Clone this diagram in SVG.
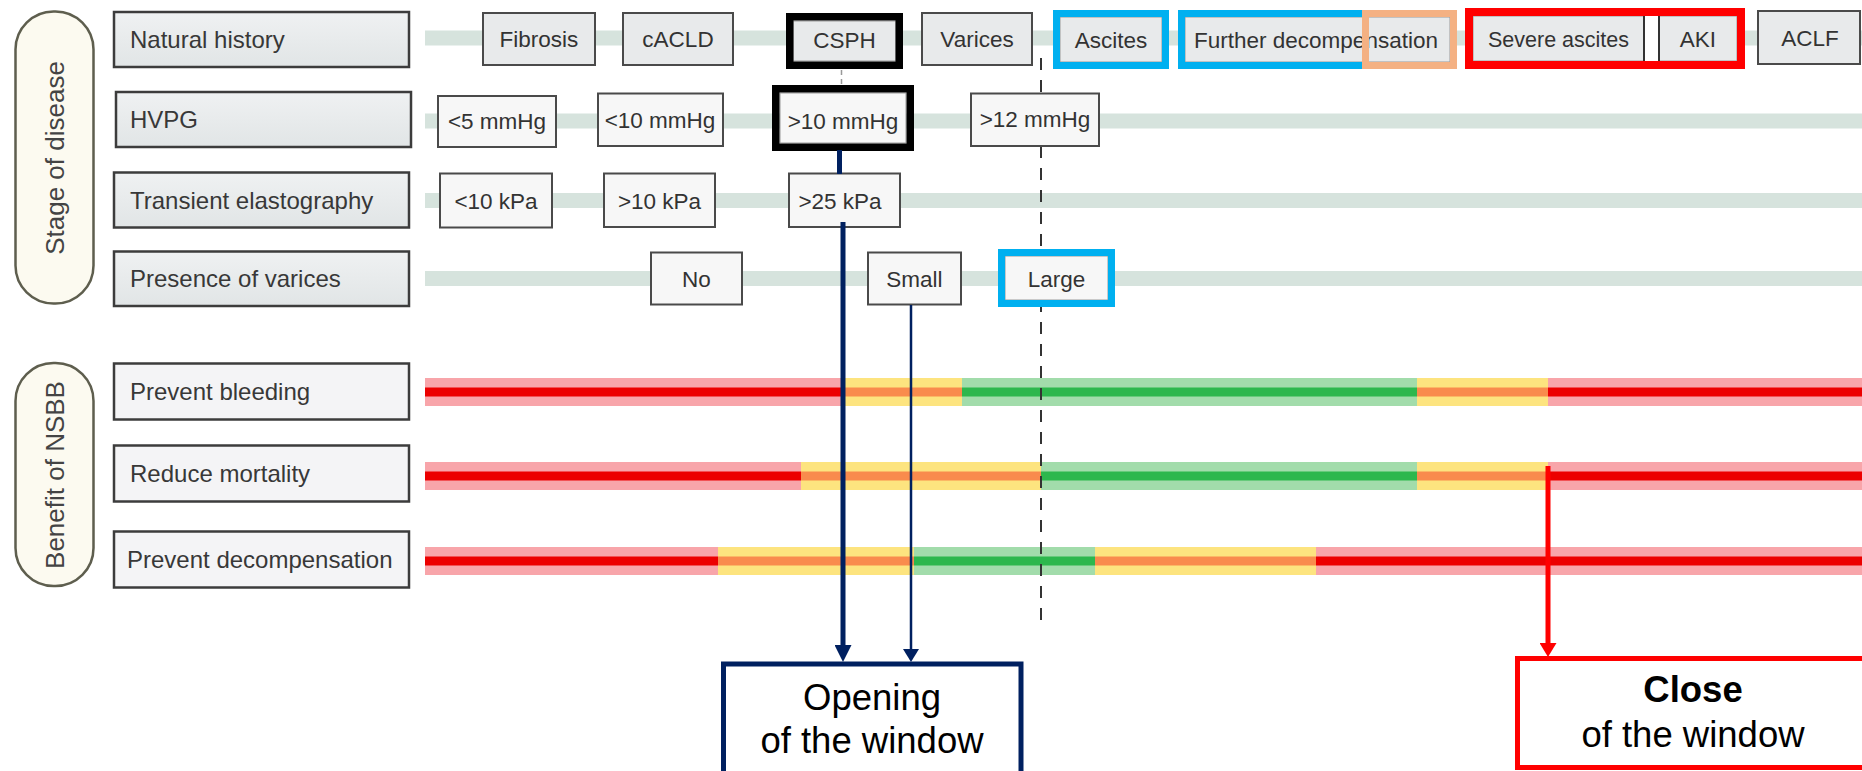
<svg xmlns="http://www.w3.org/2000/svg" width="1862" height="771" viewBox="0 0 1862 771">
<defs>
<linearGradient id="lblGrad" x1="0" y1="0" x2="0" y2="1"><stop offset="0" stop-color="#eff1f2"/><stop offset="1" stop-color="#e1e5e6"/></linearGradient>
<marker id="arrNavyThick" markerUnits="userSpaceOnUse" markerWidth="17" markerHeight="17" viewBox="0 0 17 17" refX="2" refY="8.5" orient="auto"><path d="M0,0 L17,8.5 L0,17 z" fill="#002060"/></marker>
<marker id="arrNavyThin" markerUnits="userSpaceOnUse" markerWidth="13" markerHeight="16" viewBox="0 0 13 16" refX="2" refY="8" orient="auto"><path d="M0,0 L13,8 L0,16 z" fill="#002060"/></marker>
<marker id="arrRed" markerUnits="userSpaceOnUse" markerWidth="14" markerHeight="17" viewBox="0 0 14 17" refX="2" refY="8.5" orient="auto"><path d="M0,0 L14,8.5 L0,17 z" fill="#ff0000"/></marker>
<style>
text{font-family:"Liberation Sans",Arial,Helvetica,sans-serif}
.pill{fill:#fcfaf0;stroke:#5e5e4e;stroke-width:2.5}
.lbl{fill:url(#lblGrad);stroke:#3c3c3c;stroke-width:2.5}
.lbl2{fill:#f4f4f6;stroke:#3c3c3c;stroke-width:2.5}
.node{fill:#e8eaeb;stroke:#4a4a4a;stroke-width:2}
.nodew{fill:#f7f7f7;stroke:#4a4a4a;stroke-width:2}
.inner{fill:#e8eaeb;stroke:#9a9a9a;stroke-width:1}
.innerw{fill:#f7f7f7;stroke:#9a9a9a;stroke-width:1}
.blk{fill:none;stroke:#000;stroke-width:7.5}
.cyan{fill:none;stroke:#00b0f0;stroke-width:7}
.orng{fill:none;stroke:#f4b183;stroke-width:7}
.redf{fill:none;stroke:#ff0000;stroke-width:8}
.t-pill{font-size:26px;fill:#444;text-anchor:middle}
.t-lbl{font-size:24px;fill:#383838}
.t-node{font-size:22.5px;fill:#333;text-anchor:middle}
.t-big{font-size:36.5px;fill:#000;text-anchor:middle}
.track{fill:#d6e3dd}
.ro{fill:#f8a5aa}.ri{fill:#ec0000}
.yo{fill:#fde47f}.yi{fill:#f98b4d}
.go{fill:#a2dcab}.gi{fill:#2db74d}
</style>
</defs>
<rect width="1862" height="771" fill="#ffffff"/>

<!-- tracks -->
<g id="tracks">
<rect class="track" x="425" y="30.5" width="1437" height="15"/>
<rect class="track" x="425" y="113.5" width="1437" height="15"/>
<rect class="track" x="425" y="193" width="1437" height="15"/>
<rect class="track" x="425" y="271" width="1437" height="15"/>
</g>

<!-- benefit bars -->
<g id="bars">
<g id="bar-bleeding">
<rect class="ro" x="425" y="378" width="416" height="28"/><rect class="ri" x="425" y="387.5" width="416" height="9"/>
<rect class="yo" x="841" y="378" width="121" height="28"/><rect class="yi" x="841" y="387.5" width="121" height="9"/>
<rect class="go" x="962" y="378" width="455" height="28"/><rect class="gi" x="962" y="387.5" width="455" height="9"/>
<rect class="yo" x="1417" y="378" width="131" height="28"/><rect class="yi" x="1417" y="387.5" width="131" height="9"/>
<rect class="ro" x="1548" y="378" width="314" height="28"/><rect class="ri" x="1548" y="387.5" width="314" height="9"/>
</g>
<g id="bar-mortality">
<rect class="ro" x="425" y="462" width="376" height="28"/><rect class="ri" x="425" y="471.5" width="376" height="9"/>
<rect class="yo" x="801" y="462" width="240" height="28"/><rect class="yi" x="801" y="471.5" width="240" height="9"/>
<rect class="go" x="1041" y="462" width="376" height="28"/><rect class="gi" x="1041" y="471.5" width="376" height="9"/>
<rect class="yo" x="1417" y="462" width="131" height="28"/><rect class="yi" x="1417" y="471.5" width="131" height="9"/>
<rect class="ro" x="1548" y="462" width="314" height="28"/><rect class="ri" x="1548" y="471.5" width="314" height="9"/>
</g>
<g id="bar-decompensation">
<rect class="ro" x="425" y="547" width="293" height="28"/><rect class="ri" x="425" y="556.5" width="293" height="9"/>
<rect class="yo" x="718" y="547" width="196" height="28"/><rect class="yi" x="718" y="556.5" width="196" height="9"/>
<rect class="go" x="914" y="547" width="181" height="28"/><rect class="gi" x="914" y="556.5" width="181" height="9"/>
<rect class="yo" x="1095" y="547" width="221" height="28"/><rect class="yi" x="1095" y="556.5" width="221" height="9"/>
<rect class="ro" x="1316" y="547" width="546" height="28"/><rect class="ri" x="1316" y="556.5" width="546" height="9"/>
</g>
</g>

<!-- connectors behind nodes -->
<g id="guides">
<line x1="1041" y1="58" x2="1041" y2="625" stroke="#333" stroke-width="2" stroke-dasharray="12 10"/>
<line x1="841.5" y1="70" x2="841.5" y2="85" stroke="#999" stroke-width="1.5" stroke-dasharray="5 4"/>
</g>

<!-- category pills -->
<g id="pill-stage">
<rect class="pill" x="15.5" y="11.5" width="78" height="292" rx="38" ry="38"/>
<text class="t-pill" transform="translate(63.5,158) rotate(-90)">Stage of disease</text>
</g>
<g id="pill-benefit">
<rect class="pill" x="15.5" y="363" width="78" height="223" rx="38" ry="38"/>
<text class="t-pill" transform="translate(63.5,475) rotate(-90)">Benefit of NSBB</text>
</g>

<!-- row labels -->
<g id="lbl-natural"><rect class="lbl" x="114" y="12" width="295" height="55"/><text class="t-lbl" x="130" y="48">Natural history</text></g>
<g id="lbl-hvpg"><rect class="lbl" x="116" y="92" width="295" height="55"/><text class="t-lbl" x="130" y="128">HVPG</text></g>
<g id="lbl-te"><rect class="lbl" x="114" y="172.5" width="295" height="55"/><text class="t-lbl" x="130" y="209">Transient elastography</text></g>
<g id="lbl-varices"><rect class="lbl" x="114" y="251.5" width="295" height="54.5"/><text class="t-lbl" x="130" y="287">Presence of varices</text></g>
<g id="lbl-bleeding"><rect class="lbl2" x="114" y="363.5" width="295" height="56"/><text class="t-lbl" x="130" y="400">Prevent bleeding</text></g>
<g id="lbl-mortality"><rect class="lbl2" x="114" y="445.5" width="295" height="56"/><text class="t-lbl" x="130" y="482">Reduce mortality</text></g>
<g id="lbl-decomp"><rect class="lbl2" x="114" y="531.5" width="295" height="56"/><text class="t-lbl" x="127" y="568">Prevent decompensation</text></g>

<!-- natural history nodes -->
<g id="n-fibrosis"><rect class="node" x="483" y="13" width="112" height="52"/><text class="t-node" x="539" y="47">Fibrosis</text></g>
<g id="n-cacld"><rect class="node" x="623" y="13" width="110" height="52"/><text class="t-node" x="678" y="47">cACLD</text></g>
<g id="n-csph"><rect class="inner" x="793" y="21" width="103" height="40"/><rect class="blk" x="789.75" y="16.75" width="109.5" height="48.5"/><text class="t-node" x="844.5" y="48">CSPH</text></g>
<g id="n-varices"><rect class="node" x="922" y="13" width="110" height="52"/><text class="t-node" x="977" y="47">Varices</text></g>
<g id="n-ascites"><rect class="inner" x="1060" y="17" width="102" height="45"/><rect class="cyan" x="1056.5" y="13.5" width="109" height="52"/><text class="t-node" x="1111" y="48">Ascites</text></g>
<g id="n-further"><rect class="inner" x="1185" y="17" width="265" height="45"/><text class="t-node" x="1316" y="48">Further decompensation</text><rect class="cyan" x="1181.5" y="13.5" width="272" height="52"/><rect class="orng" x="1365.5" y="13.5" width="88" height="52"/></g>
<g id="n-severe-aki"><rect class="inner" x="1473" y="16" width="171" height="45"/><rect x="1644" y="16" width="15" height="45" fill="#ffffff"/><rect class="inner" x="1659" y="16" width="78" height="45"/><line x1="1644" y1="16" x2="1644" y2="61" stroke="#333" stroke-width="2"/><line x1="1659" y1="16" x2="1659" y2="61" stroke="#333" stroke-width="2"/><rect class="redf" x="1469" y="12" width="272" height="53"/><text class="t-node" x="1558.5" y="47" style="font-size:21.5px">Severe ascites</text><text class="t-node" x="1698" y="47">AKI</text></g>
<g id="n-aclf"><rect class="node" x="1758" y="11" width="102" height="53"/><text class="t-node" x="1810" y="46">ACLF</text></g>

<!-- HVPG nodes -->
<g id="n-hv5"><rect class="nodew" x="438" y="96" width="118" height="51"/><text class="t-node" x="497" y="129">&lt;5 mmHg</text></g>
<g id="n-hv10a"><rect class="nodew" x="598" y="93.5" width="125" height="52.5"/><text class="t-node" x="660" y="128">&lt;10 mmHg</text></g>
<g id="n-hv10b"><rect class="innerw" x="780" y="93" width="126" height="50"/><rect class="blk" x="775.75" y="88.75" width="134.5" height="58.5"/><text class="t-node" x="843" y="129">&gt;10 mmHg</text></g>
<g id="n-hv12"><rect class="nodew" x="971" y="93.5" width="128" height="52.5"/><text class="t-node" x="1035" y="127">&gt;12 mmHg</text></g>

<!-- elastography nodes -->
<g id="n-te10a"><rect class="nodew" x="440" y="173.5" width="112" height="54"/><text class="t-node" x="496" y="209">&lt;10 kPa</text></g>
<g id="n-te10b"><rect class="nodew" x="604" y="173.5" width="111" height="53.5"/><text class="t-node" x="659.5" y="209">&gt;10 kPa</text></g>
<g id="n-te25"><rect class="nodew" x="789" y="173.5" width="111" height="53.5"/><text class="t-node" x="840" y="209">&gt;25 kPa</text></g>

<!-- varices nodes -->
<g id="n-no"><rect class="nodew" x="651" y="252.5" width="91" height="52"/><text class="t-node" x="696.5" y="287">No</text></g>
<g id="n-small"><rect class="nodew" x="868" y="252.5" width="93" height="52"/><text class="t-node" x="914.5" y="287">Small</text></g>
<g id="n-large"><rect class="innerw" x="1005" y="256" width="103" height="44"/><rect class="cyan" x="1001.5" y="252.5" width="110" height="51"/><text class="t-node" x="1056.5" y="287">Large</text></g>

<!-- connectors -->
<g id="connectors">
<line x1="839.5" y1="150" x2="839.5" y2="174" stroke="#002060" stroke-width="5"/>
<line x1="843" y1="222" x2="843" y2="647" stroke="#002060" stroke-width="5" marker-end="url(#arrNavyThick)"/>
<line x1="911" y1="305" x2="911" y2="651" stroke="#002060" stroke-width="2.5" marker-end="url(#arrNavyThin)"/>
<line x1="1548" y1="466" x2="1548" y2="645" stroke="#ff0000" stroke-width="5" marker-end="url(#arrRed)"/>
</g>

<!-- window boxes -->
<g id="n-opening">
<rect x="723.5" y="664" width="297.5" height="115" fill="#ffffff" stroke="#002060" stroke-width="5"/>
<text class="t-big" x="872" y="710">Opening</text>
<text class="t-big" x="872" y="753">of the window</text>
</g>
<g id="n-close">
<rect x="1517.5" y="658.5" width="360" height="109" fill="#ffffff" stroke="#ff0000" stroke-width="5"/>
<text class="t-big" x="1693" y="702" font-weight="bold">Close</text>
<text class="t-big" x="1693" y="747">of the window</text>
</g>
</svg>
